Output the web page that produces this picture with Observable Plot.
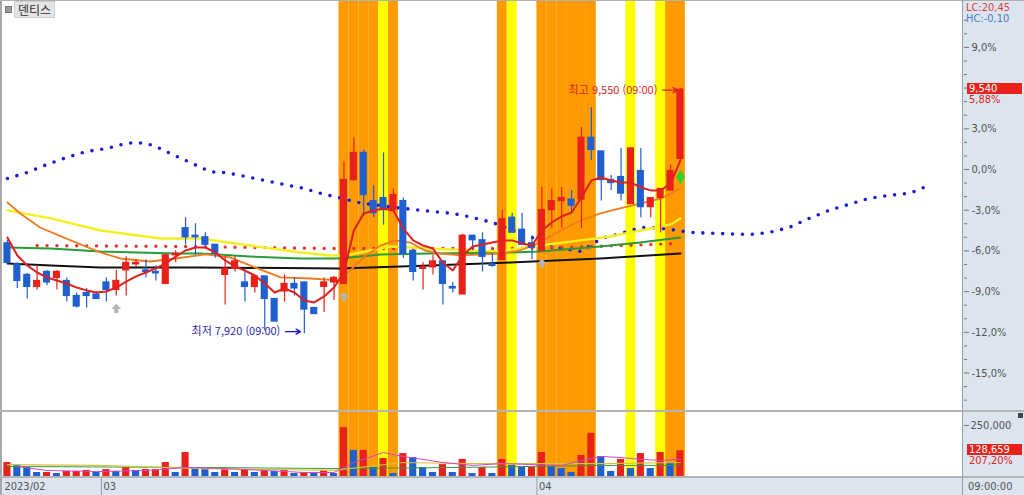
<!DOCTYPE html>
<html lang="ko"><head><meta charset="utf-8">
<script src="https://cdn.jsdelivr.net/npm/d3@7"></script>
<script src="https://cdn.jsdelivr.net/npm/@observablehq/plot@0.6"></script>
<style>
html,body{margin:0;padding:0;background:#fff;}
#wrap{position:relative;width:1024px;height:495px;overflow:hidden;background:#fff;font-family:"DejaVu Sans Condensed","Liberation Sans Narrow","DejaVu Sans",sans-serif;font-size:11px;}
</style></head><body><div id="wrap"></div>
<script>
// ---------------- DATA ----------------
const stockName = "덴티스";
const basePrice = 9010;
const opens  = [8520,8380,8310,8230,8330,8290,8270,8170,8190,8180,8260,8210,8340,8380,8340,8330,8250,8440,8620,8570,8560,8510,8310,8350,8260,8230,8300,8150,8200,8250,8260,8090,8230,8260,8250,8940,9120,8800,8820,8740,8800,8470,8350,8360,8400,8230,8180,8570,8540,8380,8410,8690,8610,8520,8470,8740,8800,8810,8810,9220,9130,8940,8960,8780,9000,8760,8820,8870,9080];
const highs  = [8540,8390,8320,8370,8340,8340,8290,8190,8220,8200,8290,8340,8430,8410,8410,8370,8450,8470,8690,8650,8590,8510,8430,8430,8350,8300,8300,8150,8310,8290,8260,8090,8290,8300,9060,9220,9140,8900,9120,8880,8820,8470,8390,8440,8400,8260,8580,8570,8590,8450,8740,8720,8720,8570,8890,8880,8890,8870,9290,9420,9130,8970,9150,9150,9150,8820,8880,9040,9550];
const lows   = [8380,8220,8150,8210,8240,8210,8130,8090,8090,8150,8130,8170,8170,8360,8290,8270,8250,8390,8510,8440,8490,8420,8110,8330,8130,8190,7940,8000,8130,8170,7920,8050,8060,8140,8250,8930,8700,8690,8640,8740,8420,8270,8210,8310,8110,8190,8180,8470,8330,8360,8410,8590,8510,8410,8470,8620,8620,8720,8620,9070,8800,8870,8800,8780,8690,8690,8590,8870,9060];
const closes = [8390,8270,8230,8270,8260,8330,8170,8100,8170,8150,8210,8270,8390,8390,8330,8320,8440,8450,8560,8560,8510,8450,8350,8400,8230,8300,8150,8000,8250,8220,8080,8050,8260,8290,8940,9120,8840,8720,8740,8840,8450,8330,8360,8400,8250,8220,8570,8540,8430,8370,8680,8590,8510,8490,8740,8800,8820,8770,9220,9140,8940,8920,8850,9150,8760,8820,8880,9000,9540];
const volumes = [72000,58000,48000,24000,24000,19000,29000,29000,34000,24000,38000,29000,48000,34000,38000,38000,72000,24000,120000,43000,38000,24000,38000,24000,38000,24000,38000,29000,34000,19000,24000,19000,34000,19000,240000,130000,130000,48000,91000,19000,115000,96000,48000,24000,62000,24000,87000,19000,48000,19000,87000,58000,48000,48000,120000,53000,43000,24000,106000,212000,101000,29000,87000,43000,115000,43000,120000,67000,128659];
const lastVolumePct = "207,20%";
const orangeIdx = [34,35,36,37,39,50,54,55,56,57,58,59,67,68];
const yellowIdx = [38,51,63,66];
// moving averages (price)
const ma5 = [8558,8439,8373,8326,8293,8273,8253,8226,8207,8193,8200,8226,8266,8300,8326,8353,8386,8432,8472,8492,8492,8459,8406,8366,8339,8306,8253,8193,8220,8193,8140,8127,8167,8226,8326,8605,8718,8738,8751,8738,8618,8539,8505,8485,8392,8339,8439,8499,8512,8525,8539,8539,8519,8505,8605,8658,8698,8724,8824,8937,8957,8937,8924,8924,8890,8871,8871,8917,9070];
const ma20 = [[0,8791],[1.3,8718],[3.3,8625],[6.4,8539],[9.4,8459],[11.4,8419],[14.4,8399],[17,8419],[20,8446],[22.5,8426],[24.5,8373],[27.6,8293],[30.6,8286],[33.6,8273],[34.6,8339],[36.2,8439],[37.7,8505],[39.2,8539],[40.7,8525],[42.2,8472],[43.7,8452],[45.8,8439],[49.8,8452],[51.8,8472],[53.8,8525],[55.9,8605],[57.9,8671],[59.9,8718],[61.9,8751],[63.9,8784],[66,8817],[68,8884]];
const ma60 = [[0,8738],[4.4,8685],[9.4,8605],[15.5,8552],[19.5,8552],[24.5,8505],[29.6,8459],[32.6,8439],[34.1,8439],[35.7,8459],[38.7,8499],[42.7,8485],[46.8,8472],[49.8,8466],[53.8,8505],[57.9,8539],[60.9,8565],[65,8618],[67,8645],[68,8685]];
const ma120 = [[0,8492],[4.4,8485],[9.4,8466],[17,8452],[19.5,8452],[24.5,8432],[29.6,8419],[33.6,8419],[37.7,8446],[42.7,8452],[50.8,8459],[53.8,8466],[59.9,8499],[63.9,8525],[68,8558]];
const ma240 = [[0,8386],[4.4,8373],[9.4,8359],[19.5,8359],[33.6,8353],[42.7,8373],[50.8,8392],[59.9,8419],[68,8452]];
const redDotted = [[3,8505],[17,8499],[33,8485],[50,8485],[56,8492],[62,8505],[68,8519]];
const blueDotted = [[0,8950],[2,8990],[4,9043],[6,9090],[8,9130],[10,9149],[12,9183],[13,9189],[14,9183],[15,9163],[16,9130],[18,9070],[20,9010],[21,8990],[22,8990],[24,8964],[26,8937],[28,8910],[30,8884],[32,8844],[33,8831],[35,8798],[36,8784],[41,8744],[43,8731],[45,8718],[47,8691],[49,8658],[53,8558],[56,8485],[58,8466],[60,8552],[62,8585],[64,8625],[65,8625],[67,8612],[69,8592],[75,8578],[77,8592],[79,8625],[81,8685],[83,8738],[85,8778],[87,8817],[89,8837],[91,8851],[92,8871],[93,8904]];
// volume moving averages
const volMa5 = [[1,52900],[4,33700],[9,28800],[14,33700],[18,48000],[22,43000],[26,33700],[30,24000],[33,24000],[35,72000],[38,120000],[40,101000],[42,87000],[44,72000],[47,58000],[50,67000],[53,62000],[56,58000],[59,91000],[60,101000],[62,96000],[64,87000],[66,82000],[68,87000]];
const volMa20 = [[0,62000],[9,58000],[20,43000],[33,34000],[40,72000],[47,67000],[53,67000],[60,67000],[68,72000]];
const volMa60 = [[0,53000],[20,48000],[33,43000],[45,48000],[60,58000],[68,58000]];
// markers
const signalUpIdx = [11,34,54];
const diamondIdx = [68];
const diamondVal = [8960];
// axis (6% label sits under the current-price box, so only its tick is drawn)
const pctTicks = [-15,-12,-9,-6,-3,0,3,9];
const pctTickOnly = [6];
const pctMinor = d3.range(-17,13).filter(p => p % 3 !== 0);
const volTicks = [250000];
const monthStart = [0,10,54];
const monthLabel = ["2023/02","03","04"];
const lcText = "LC:20,45", hcText = "HC:-0,10", timeText = "09:00:00", timeStamp = "09:00";

// ---------------- STYLE ----------------
const RED = "#e8211b", BLUE = "#1f5fd0", ORANGE = "#ff9a00", YELLOW = "#ffff00";
const PANEL = "#dbe4ef";
const xDomain = [-0.7, 96.6];
const yDomain = [7403, 10132];
const vDomain = [0, 312500];
const FONT = '"DejaVu Sans Condensed","Liberation Sans Narrow","DejaVu Sans",sans-serif';
const KFONT = '"Noto Sans CJK KR","Noto Sans",sans-serif';

const N = opens.length;
const candles = d3.range(N).map(i => ({i, o: opens[i], h: highs[i], l: lows[i], c: closes[i]}));
const isUp = d => d.c >= d.o;
const bands = [...orangeIdx.map(i => ({i, f: ORANGE})), ...yellowIdx.map(i => ({i, f: YELLOW}))];
const vols = volumes.map((v, i) => ({i, v, up: i === 0 || v >= volumes[i - 1]}));
const fmtPct = p => (p < 0 ? "-" : "") + Math.abs(p).toFixed(1).replace(".", ",") + "%";
const fmtPct2 = p => (p < 0 ? "-" : "") + Math.abs(p).toFixed(2).replace(".", ",") + "%";
const fmtNum = d3.format(",");
const pt = () => ({x: d => d[0], y: d => d[1]});
const toPrice = p => basePrice * (1 + p / 100);

const upArrow = {draw(ctx) {
  ctx.moveTo(0, -5); ctx.lineTo(5, 0); ctx.lineTo(2, 0); ctx.lineTo(2, 4);
  ctx.lineTo(-2, 4); ctx.lineTo(-2, 0); ctx.lineTo(-5, 0); ctx.closePath();
}};

const iMax = d3.maxIndex(highs), iMin = d3.minIndex(lows);
const wrap = document.getElementById("wrap");
function el(css, text) {
  const e = document.createElement("div");
  e.style.cssText = "position:absolute;white-space:nowrap;" + css;
  if (text != null) e.textContent = text;
  wrap.appendChild(e); return e;
}
function place(node, top) {
  node.style.position = "absolute"; node.style.left = "0px"; node.style.top = top + "px";
  wrap.appendChild(node);
}

// backgrounds
el(`left:963px;top:0;width:61px;height:495px;background:${PANEL};`);
el(`left:0;top:477px;width:1024px;height:18px;background:${PANEL};`);

// ---------------- MAIN PRICE PANEL ----------------
const main = Plot.plot({
  width: 1024, height: 411, marginLeft: 0, marginRight: 61, marginTop: 0, marginBottom: 0,
  style: {background: "transparent", fontFamily: FONT, fontSize: "11px", color: "#555", overflow: "visible"},
  x: {domain: xDomain, axis: null},
  y: {domain: yDomain, axis: null},
  marks: [
    Plot.rect(bands, {x1: d => d.i - 0.5, x2: d => d.i + 0.5, fill: d => d.f}),
    Plot.line(blueDotted, {...pt(), stroke: "#1c1cd4", strokeWidth: 3.6, strokeLinecap: "round", strokeDasharray: "0 9.9"}),
    Plot.line(redDotted, {...pt(), stroke: "#e5322a", strokeWidth: 3.4, strokeLinecap: "round", strokeDasharray: "0 9.9"}),
    Plot.line(ma240, {...pt(), stroke: "#111", strokeWidth: 2}),
    Plot.line(ma120, {...pt(), stroke: "#2a9a3a", strokeWidth: 2}),
    Plot.line(ma60, {...pt(), stroke: "#f4f020", strokeWidth: 2.4}),
    Plot.line(ma20, {...pt(), stroke: "#f07a20", strokeWidth: 1.8}),
    Plot.ruleX(candles, {x: "i", y1: "l", y2: "h", stroke: d => isUp(d) ? RED : BLUE, strokeWidth: 1.2}),
    Plot.rect(candles, {x1: d => d.i - 0.36, x2: d => d.i + 0.36, y1: "o", y2: "c", fill: d => isUp(d) ? RED : BLUE, insetTop: -0.6, insetBottom: -0.6}),
    Plot.line(ma5, {x: (d, i) => i, y: d => d, stroke: "#e0201c", strokeWidth: 2}),
    Plot.dot(signalUpIdx, {x: d => d, y: d => lows[d], dy: 13, symbol: upArrow, fill: "#b4b4b4", stroke: null}),
    Plot.dot(diamondIdx, {x: d => d, y: (d, k) => diamondVal[k], symbol: "diamond", r: 4.5, fill: "#2fd12f", stroke: null}),
    Plot.text([iMax], {x: d => d, y: d => highs[d], text: d => `최고 ${fmtNum(highs[d])} (${timeStamp})`, textAnchor: "end", dx: -23, dy: 2, fill: "#d8261e", fontSize: 11, fontFamily: KFONT}),
    Plot.arrow([iMax], {x1: d => d - 1.8, x2: d => d - 0.3, y1: d => highs[d], y2: d => highs[d], dy: 2, stroke: "#d8261e", strokeWidth: 1.3, headLength: 6}),
    Plot.text([iMin], {x: d => d, y: d => lows[d], text: d => `최저 ${fmtNum(lows[d])} (${timeStamp})`, textAnchor: "end", dx: -24, dy: -2, fill: "#2a2aa6", fontSize: 11, fontFamily: KFONT}),
    Plot.arrow([iMin], {x1: d => d - 1.9, x2: d => d - 0.4, y1: d => lows[d], y2: d => lows[d], dy: -2, stroke: "#1414d0", strokeWidth: 1.3, headLength: 6}),
    Plot.axisY({anchor: "right", label: null, ticks: pctMinor.map(toPrice), tickFormat: () => "", tickSize: 3, stroke: "#777"}),
    Plot.axisY({anchor: "right", label: null, ticks: pctTickOnly.map(toPrice), tickFormat: () => "", tickSize: 5, stroke: "#777"}),
    Plot.axisY({anchor: "right", label: null, ticks: pctTicks.map(toPrice), tickFormat: v => fmtPct(Math.round((v / basePrice - 1) * 1000) / 10), tickSize: 5, tickPadding: 3, stroke: "#777", fill: "#555"})
  ]
});
place(main, 0);

// ---------------- VOLUME PANEL ----------------
const volPlot = Plot.plot({
  width: 1024, height: 65, marginLeft: 0, marginRight: 61, marginTop: 0, marginBottom: 0,
  style: {background: "transparent", fontFamily: FONT, fontSize: "11px", color: "#555", overflow: "visible"},
  x: {domain: xDomain, axis: null},
  y: {domain: vDomain, axis: null},
  marks: [
    Plot.rect(bands, {x1: d => d.i - 0.5, x2: d => d.i + 0.5, fill: d => d.f}),
    Plot.rectY(vols, {x1: d => d.i - 0.36, x2: d => d.i + 0.36, y: "v", fill: d => d.up ? RED : BLUE}),
    Plot.line(volMa60, {...pt(), stroke: "#3a9a3a", strokeWidth: 1}),
    Plot.line(volMa20, {...pt(), stroke: "#d8c040", strokeWidth: 1.2}),
    Plot.line(volMa5, {...pt(), stroke: "#d048c8", strokeWidth: 1}),
    Plot.axisY({anchor: "right", label: null, ticks: volTicks, tickFormat: fmtNum, tickSize: 5, tickPadding: 2, stroke: "#777", fill: "#555"})
  ]
});
place(volPlot, 412);

// ---------------- DATE STRIP ----------------
const months = monthStart.map((i, k) => ({i, t: monthLabel[k]}));
const dateStrip = Plot.plot({
  width: 1024, height: 18, marginLeft: 0, marginRight: 61, marginTop: 0, marginBottom: 0,
  style: {background: "transparent", fontFamily: FONT, fontSize: "11px", color: "#555", overflow: "visible"},
  x: {domain: xDomain, axis: null},
  marks: [
    Plot.ruleX(months.slice(1), {x: d => d.i - 0.5, stroke: "#9aa0a8"}),
    Plot.text(months, {x: d => d.i - 0.5, text: "t", textAnchor: "start", dx: 2, frameAnchor: "middle", fill: "#555"})
  ]
});
place(dateStrip, 477);

// ---------------- FRAME LINES & LABELS ----------------
el("left:0;top:0;width:2px;height:495px;background:#a8a8a8;");
el("left:0;top:0;width:1024px;height:1px;background:#b0b0b0;");
el("left:0;top:410px;width:1024px;height:2px;background:#b4b4b4;");
el("left:0;top:476px;width:1024px;height:2px;background:#b4b4b4;");
el("left:962px;top:0;width:1px;height:495px;background:#9aa0a8;");

// title
el("left:5px;top:6px;width:5px;height:5px;background:#9a9a9a;border:1px solid #777;");
el(`left:14px;top:1px;height:15px;line-height:15px;padding:0 3px;background:#e4e4e4;border:1px solid #cfcfcf;font-family:${KFONT};font-size:12px;color:#333;`, stockName);

// right panel labels
el("left:966px;top:2px;color:#e04040;font-size:11px;line-height:11px;", lcText);
el("left:966px;top:13px;color:#4a7cc8;font-size:11px;line-height:11px;", hcText);
const yPx = main.scale("y").apply(closes[N - 1]);
el(`left:967px;top:${yPx - 6}px;width:55px;height:11px;line-height:11px;background:${RED};color:#fff;padding-left:2px;box-sizing:border-box;`, fmtNum(closes[N - 1]));
el(`left:969px;top:${yPx + 5}px;color:#e8211b;line-height:11px;`, fmtPct2((closes[N - 1] / basePrice - 1) * 100));
const vPx = 412 + volPlot.scale("y").apply(volumes[N - 1]);
el(`left:967px;top:${vPx - 6}px;width:55px;height:11px;line-height:11px;background:${RED};color:#fff;padding-left:2px;box-sizing:border-box;`, fmtNum(volumes[N - 1]));
el(`left:969px;top:${vPx + 5}px;color:#e8211b;line-height:11px;`, lastVolumePct);
el("left:1018px;top:413px;width:5px;height:5px;background:#444;");
el("left:968px;top:481px;color:#555;line-height:11px;", timeText);
</script>
</body></html>
